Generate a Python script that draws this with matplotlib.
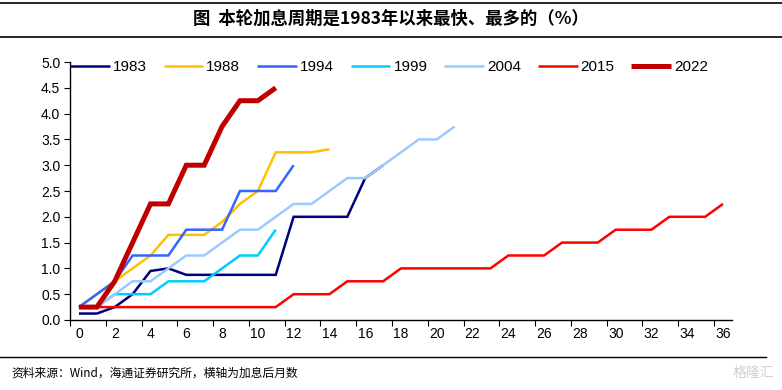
import numpy as np
import matplotlib.pyplot as plt
from matplotlib.lines import Line2D

plt.rcParams['font.family'] = ['Liberation Sans', 'Noto Sans CJK SC', 'DejaVu Sans']

# cumulative hikes (%) by month after first hike
y1983 = [0.125, 0.125, 0.25, 0.5, 0.95, 1.0, 0.875, 0.875, 0.875, 0.875, 0.875, 0.875,
         2.0, 2.0, 2.0, 2.0, 2.75, 3.0]
y1988 = [0.25, 0.5, 0.75, 1.0, 1.25, 1.65, 1.65, 1.65, 1.9, 2.25, 2.5, 3.25, 3.25, 3.25, 3.31]
y1994 = [0.25, 0.5, 0.75, 1.25, 1.25, 1.25, 1.75, 1.75, 1.75, 2.5, 2.5, 2.5, 3.0]
y1999 = [0.25, 0.25, 0.5, 0.5, 0.5, 0.75, 0.75, 0.75, 1.0, 1.25, 1.25, 1.75]
y2004 = [0.25, 0.25, 0.5, 0.75, 0.75, 1.0, 1.25, 1.25, 1.5, 1.75, 1.75, 2.0, 2.25, 2.25,
         2.5, 2.75, 2.75, 3.0, 3.25, 3.5, 3.5, 3.75]
y2015 = [0.25] * 12 + [0.5] * 3 + [0.75] * 3 + [1.0] * 6 + [1.25] * 3 + [1.5] * 3 + \
        [1.75] * 3 + [2.0] * 3 + [2.25]
y2022 = [0.25, 0.25, 0.75, 1.5, 2.25, 2.25, 3.0, 3.0, 3.75, 4.25, 4.25, 4.5]

series = [("1983", y1983, "#000080", 1.8),
          ("1988", y1988, "#FFC000", 1.8),
          ("1994", y1994, "#3366FF", 1.8),
          ("1999", y1999, "#00CCFF", 1.8),
          ("2004", y2004, "#99CCFF", 1.8),
          ("2015", y2015, "#FF0000", 1.8),
          ("2022", y2022, "#C00000", 3.6)]

fig = plt.figure(figsize=(7.82, 3.90), dpi=100)
ax = fig.add_axes([0.0895, 0.1795, 0.8465, 0.6615])

for name, vals, col, lw in series:
    ax.plot(np.arange(len(vals)), vals, color=col, lw=lw, label=name,
            solid_joinstyle='miter', solid_capstyle='butt')

ax.set_xlim(-0.5, 36.5)
ax.set_ylim(0, 5.0)
ax.set_yticks(np.arange(0, 5.01, 0.5))
ax.set_yticklabels([f"{v:.1f}" for v in np.arange(0, 5.01, 0.5)], fontsize=10)
# tick marks between categories, labels on categories
ax.set_xticks(np.arange(-0.5, 36.6, 2))
ax.set_xticklabels([])
ax.set_xticks(np.arange(0, 37, 2), minor=True)
ax.set_xticklabels([str(v) for v in range(0, 37, 2)], minor=True, fontsize=10)
ax.tick_params(axis='x', which='minor', length=0, pad=5)
ax.tick_params(axis='x', which='major', length=4, direction='out')
ax.tick_params(axis='y', length=4, direction='out', pad=3)
for s in ['top', 'right']:
    ax.spines[s].set_visible(False)
for s in ['left', 'bottom']:
    ax.spines[s].set_linewidth(1.0)

ax.legend(loc='upper left', bbox_to_anchor=(0.0, 1.008), ncol=7, frameon=False,
          fontsize=11, handlelength=2.6, handletextpad=0.2, columnspacing=1.1,
          borderaxespad=0, borderpad=0)

# title band
fig.text(0.5, 0.951, "图  本轮加息周期是1983年以来最快、最多的（%）",
         ha='center', va='center', fontsize=12.5, fontweight='bold',
         family=['Noto Sans CJK SC', 'DejaVu Sans'])
fig.add_artist(Line2D([0, 1], [0.992, 0.992], color='black', lw=1.2))
fig.add_artist(Line2D([0, 1], [0.905, 0.905], color='black', lw=1.2))

# footer
fig.add_artist(Line2D([0, 0.98], [0.085, 0.085], color='black', lw=1.0))
fig.text(0.015, 0.043, "资料来源：Wind，海通证券研究所，横轴为加息后月数",
         ha='left', va='center', fontsize=8.5, family=['Noto Sans CJK SC', 'DejaVu Sans'])
fig.text(0.99, 0.043, "格隆汇", ha='right', va='center', fontsize=10, color='#d0d0d0',
         family=['Noto Sans CJK SC', 'DejaVu Sans'])

fig.savefig("out.png", dpi=100)
